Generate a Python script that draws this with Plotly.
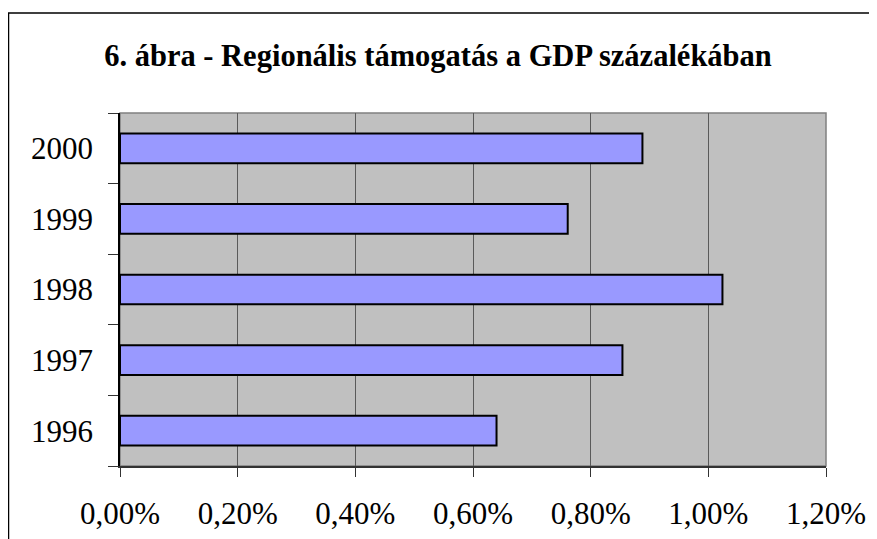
import plotly.graph_objects as go

years = ["1996", "1997", "1998", "1999", "2000"]
support_pct = [0.64, 0.854, 1.024, 0.761, 0.888]   # percent of GDP
x_ticks_pct = [0.0, 0.2, 0.4, 0.6, 0.8, 1.0, 1.2]
title_text = "6. ábra - Regionális támogatás a GDP százalékában"

# page has an 8px body margin, so figure is sized to fit the window
W, H = 869, 531
L, R, T, B = 112, 51, 105, 73
pw, ph = W - L - R, H - T - B

def px_to_paper_x(px):
    return (px - L) / pw

def px_to_paper_y(py):
    return (H - B - py) / ph

fig = go.Figure(go.Bar(
    x=[v / 100 for v in support_pct], y=years, orientation="h",
    marker=dict(color="#9999FF", line=dict(color="black", width=2)),
    hoverinfo="skip",
))

serif = "Liberation Serif, Times New Roman, serif"

fig.update_layout(
    width=W, height=H,
    margin=dict(l=L, r=R, t=T, b=B, pad=0, autoexpand=False),
    paper_bgcolor="white",
    plot_bgcolor="#C0C0C0",
    separators=",.",
    bargap=0.58,
    showlegend=False,
    font=dict(family=serif, color="black", size=30),
    title=dict(text="<b>" + title_text + "</b>", x=430 / W, xref="container", xanchor="center",
               y=1 - 47 / H, yref="container", yanchor="middle",
               font=dict(family=serif, size=30.5, color="black")),
    xaxis=dict(range=[0, 0.012], tickvals=[v / 100 for v in x_ticks_pct], tickformat=".2%",
               showgrid=True, gridcolor="#5a5a5a", gridwidth=1,
               ticks="outside", ticklen=9, tickcolor="#333333", tickwidth=1,
               showline=True, linecolor="#333333", linewidth=1.5,
               zeroline=False, ticklabelstandoff=10, automargin=False,
               tickfont=dict(family=serif, size=31, color="black")),
    yaxis=dict(type="category", categoryorder="array", categoryarray=years,
               tickson="boundaries", ticks="outside", ticklen=10, tickcolor="#333333",
               tickwidth=1, showgrid=False, showline=True, linecolor="black", linewidth=1.5,
               ticklabelstandoff=19, automargin=False,
               tickfont=dict(family=serif, size=31, color="black")),
    shapes=[
        dict(type="rect", xref="paper", yref="paper", x0=0, x1=1, y0=0, y1=1,
             line=dict(color="#808080", width=1.5), layer="below"),
        dict(type="rect", xref="paper", yref="paper",
             x0=px_to_paper_x(0.5), x1=px_to_paper_x(W + 20),
             y0=px_to_paper_y(H + 20), y1=px_to_paper_y(5),
             line=dict(color="black", width=1.5)),
    ],
)

fig.write_html("out.html")
